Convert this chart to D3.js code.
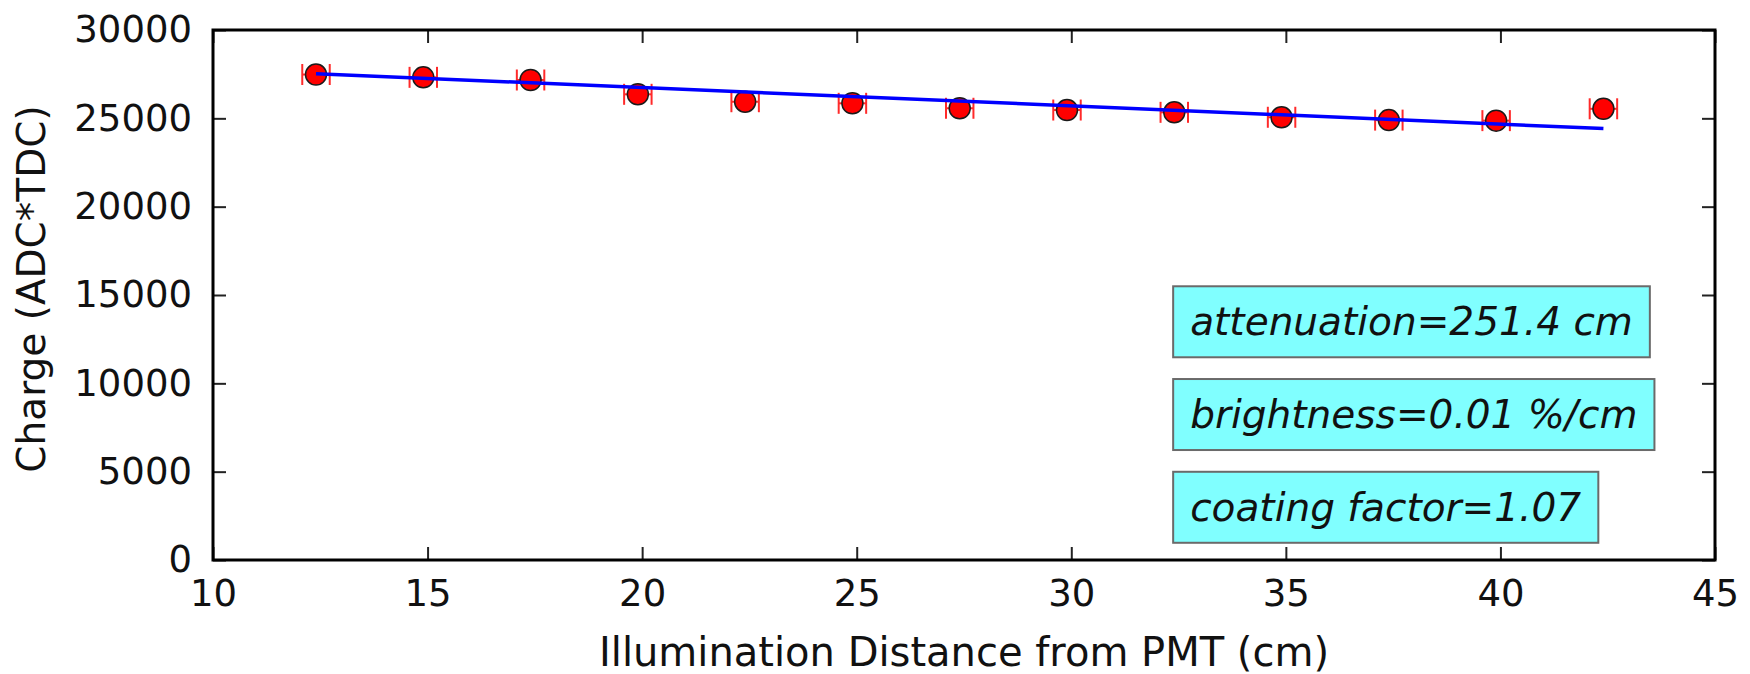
<!DOCTYPE html>
<html>
<head>
<meta charset="utf-8">
<script src="https://cdn.jsdelivr.net/npm/d3@7"></script>
<style>
  html, body { margin: 0; padding: 0; background: #fff; }
  svg { display: block; font-family: "DejaVu Sans", sans-serif; }
</style>
</head>
<body>
<svg id="chart" width="1750" height="674"></svg>
<script>
// ---- data ----
const distances = [12.4, 14.9, 17.4, 19.9, 22.4, 24.9, 27.4, 29.9, 32.4, 34.9, 37.4, 39.9, 42.4];
const charges   = [27480, 27320, 27170, 26360, 25940, 25850, 25570, 25470, 25340, 25060, 24900, 24870, 25540];
const distErr   = [0.32, 0.32, 0.32, 0.32, 0.32, 0.32, 0.32, 0.32, 0.32, 0.32, 0.32, 0.32, 0.32];
const fitX      = [12.4, 42.4];
const fitY      = [27530, 24420];
const xTicks    = [10, 15, 20, 25, 30, 35, 40, 45];
const yTicks    = [0, 5000, 10000, 15000, 20000, 25000, 30000];
const boxTexts  = ["attenuation=251.4 cm", "brightness=0.01 %/cm", "coating factor=1.07"];
const xLabel    = "Illumination Distance from PMT (cm)";
const yLabel    = "Charge (ADC*TDC)";

// ---- layout ----
const svg = d3.select("#chart");
const L = 213, R = 1715, T = 30, B = 560;
const x = d3.scaleLinear().domain([10, 45]).range([L, R]);
const y = d3.scaleLinear().domain([0, 30000]).range([B, T]);

const tickLen = 13;
// axes with inward ticks
const axB = d3.axisBottom(x).tickValues(xTicks).tickSize(-tickLen).tickPadding(20).tickFormat(d3.format("d"));
const axT = d3.axisTop(x).tickValues(xTicks).tickSize(-tickLen).tickFormat("");
const axL = d3.axisLeft(y).tickValues(yTicks).tickSize(-tickLen).tickPadding(21).tickFormat(d3.format("d"));
const axR = d3.axisRight(y).tickValues(yTicks).tickSize(-tickLen).tickFormat("");

function styleAxis(g, fs) {
  g.select(".domain").remove();
  g.selectAll(".tick line").attr("stroke", "#222").attr("stroke-width", 2);
  g.selectAll(".tick text").attr("fill", "#111").style("font-size", fs + "px").style("font-family", "DejaVu Sans");
}
svg.append("g").attr("transform", `translate(0,${B})`).call(axB).call(g => styleAxis(g, 37));
svg.append("g").attr("transform", `translate(0,${T})`).call(axT).call(g => styleAxis(g, 37));
svg.append("g").attr("transform", `translate(${L},0)`).call(axL).call(g => styleAxis(g, 37));
svg.append("g").attr("transform", `translate(${R},0)`).call(axR).call(g => styleAxis(g, 37));

// frame
svg.append("rect").attr("x", L).attr("y", T).attr("width", R - L).attr("height", B - T)
  .attr("fill", "none").attr("stroke", "#000").attr("stroke-width", 3);

const pts = distances.map((d, i) => ({ x: d, y: charges[i], e: distErr[i] }));

// error bars
const eb = svg.append("g").attr("stroke", "#ff2a2a").attr("stroke-width", 2).attr("fill", "none");
pts.forEach(p => {
  const cy = y(p.y), x0 = x(p.x - p.e), x1 = x(p.x + p.e);
  eb.append("line").attr("x1", x0).attr("x2", x1).attr("y1", cy).attr("y2", cy);
  eb.append("line").attr("x1", x0).attr("x2", x0).attr("y1", cy - 10.5).attr("y2", cy + 10.5);
  eb.append("line").attr("x1", x1).attr("x2", x1).attr("y1", cy - 10.5).attr("y2", cy + 10.5);
});

// markers
svg.append("g").selectAll("circle").data(pts).join("circle")
  .attr("cx", d => x(d.x)).attr("cy", d => y(d.y)).attr("r", 10.5)
  .attr("fill", "#ff0000").attr("stroke", "#1a1a1a").attr("stroke-width", 1.5);

// fit line
const fit = fitX.map((d, i) => [d, fitY[i]]);
svg.append("path").datum(fit)
  .attr("d", d3.line().x(d => x(d[0])).y(d => y(d[1])))
  .attr("fill", "none").attr("stroke", "#0000ff").attr("stroke-width", 3.5);

// annotation boxes
const boxX = 32.77;             // text start in data units
const boxBaselines = [12720, 7470, 2220]; // text baselines in data units
boxTexts.forEach((t, i) => {
  const g = svg.append("g");
  const txt = g.append("text").attr("x", x(boxX)).attr("y", y(boxBaselines[i]))
    .style("font-size", "39px").style("font-style", "italic").style("font-family", "DejaVu Sans")
    .attr("fill", "#111").text(t);
  const bb = txt.node().getBBox();
  g.insert("rect", "text")
    .attr("x", bb.x - 17).attr("y", bb.y - 13).attr("width", bb.width + 34).attr("height", bb.height + 26)
    .attr("fill", "#80ffff").attr("stroke", "#6a6a6a").attr("stroke-width", 2);
});

// axis labels
svg.append("text").attr("x", (L + R) / 2).attr("y", 666).attr("text-anchor", "middle")
  .style("font-size", "40px").attr("fill", "#111").text(xLabel);
svg.append("text").attr("transform", `translate(45,${(T + B) / 2 - 6}) rotate(-90)`).attr("text-anchor", "middle")
  .style("font-size", "39px").attr("fill", "#111").text(yLabel);
</script>
</body>
</html>
